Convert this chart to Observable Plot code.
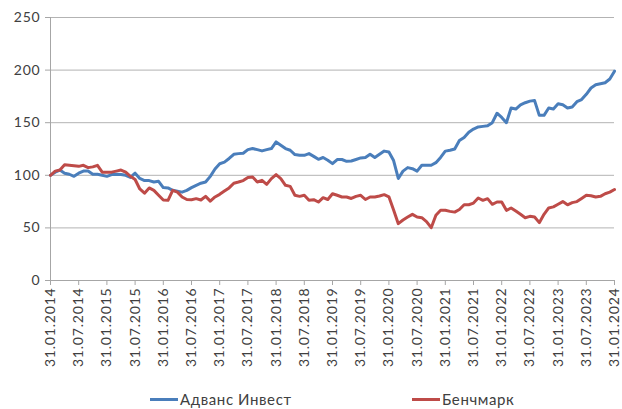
<!DOCTYPE html>
<html>
<head>
<meta charset="utf-8">
<script src="https://cdn.jsdelivr.net/npm/d3@7"></script>
<script src="https://cdn.jsdelivr.net/npm/@observablehq/plot@0.6"></script>
<style>
  html, body { margin: 0; padding: 0; background: #fff; }
  #wrap { position: relative; width: 622px; height: 409px; font-family: Lato, "Open Sans", sans-serif; }
  .leg { position: absolute; top: 390px; display: flex; align-items: center; font-size: 15px; letter-spacing: 0.6px; color: #404040; }
  .sw { width: 28px; height: 3px; margin-right: 2px; }
  svg text { letter-spacing: 0.8px; }
</style>
</head>
<body>
<div id="wrap">
  <div id="chart"></div>
  <div class="leg" style="left:150px"><span class="sw" style="background:#4A7EBB"></span>Адванс Инвест</div>
  <div class="leg" style="left:412px"><span class="sw" style="background:#BE4B48"></span>Бенчмарк</div>
</div>
<script>
const seriesNames = ["Адванс Инвест", "Бенчмарк"];
const fund = [100,103,105,102,101,99,102,104,104,101,101,100,99,100.7,101,100.7,100,98,102,97,95,95,93.6,94.3,88.3,88,85.7,84.8,84,85.7,88.3,90.5,92.5,93.6,99,106,111,112.5,116,120,120.6,121,124.4,125.4,124.4,123.2,124.4,125.4,131.7,128.6,125.4,123.8,119.7,119,119,120.6,118,115.2,116.9,114.3,111.1,115,115,113.3,113.6,115,116.5,116.9,120,116.9,120,123,122.2,114,97,104,107.3,106.3,104,109.5,109.5,109.5,112,117,123,123.8,125,133,136,141,144,146,146.5,147,150,159,155,150,164,163,167,169,170.5,171,157,157,164,163,168,167,164,165,170,172,177,183,186,187,188,191.5,199];
const bench = [100,104,105,110,109.5,109,108.5,109.5,107.3,108,109.5,103,103,103,104,105,103,99,96,87,83,88,85.7,81,76.5,76.2,85.7,84,79.4,77,76.8,77.8,76.5,80,75.5,79.4,81.9,85,88,92.5,93.6,95,98,98.4,93.6,95.2,91.4,96.8,100.6,96.8,90.5,89.5,81,80,81,76.2,76.8,74.6,78.7,77,82.5,81,79.4,79.4,78,80,81,77,79.4,79.4,80.3,81.6,79.5,67,54,57.5,60.3,62.9,60.3,59.7,56,50.2,62,66.7,66.7,65.7,65,67.5,72,72,73.6,78.4,76.2,77.8,72.4,74.6,74.6,66.7,68.9,66,62.9,59.7,61,60.3,55,62.9,69,70,72.5,75,72,74,75,78,81,80.5,79.4,80,82.5,84,86.5];
const yTicks = [0, 50, 100, 150, 200, 250];
const fmt = d3.utcFormat("%d.%m.%Y");
const dates = d3.range(fund.length).map(i => fmt(new Date(Date.UTC(2014, i + 1, 0))));
const tickLabels = dates.filter((d, i) => i % 6 === 0);
const colors = ["#4A7EBB", "#BE4B48"];

const chart = Plot.plot({
  width: 622,
  height: 388,
  marginLeft: 50,
  marginRight: 8,
  marginTop: 17,
  marginBottom: 108,
  style: { fontFamily: "Lato, 'Open Sans', sans-serif", fontSize: "14px", color: "#404040", background: "#fff" },
  x: { type: "point", domain: dates, padding: 0 },
  y: { domain: [0, 250] },
  marks: [
    Plot.gridY(yTicks, { stroke: "#b3b3b3", strokeOpacity: 1, strokeWidth: 1 }),
    Plot.ruleX([dates[0]], { stroke: "#a6a6a6" }),
    Plot.ruleY([0], { stroke: "#a6a6a6" }),
    Plot.axisY(yTicks, { tickSize: 5, tickPadding: 5, stroke: "#a6a6a6", fill: "#404040", fontSize: 14, label: null }),
    Plot.axisX(tickLabels, { tickSize: 5, text: null, stroke: "#a6a6a6", label: null }),
    Plot.axisX(tickLabels, { tickSize: 0, tickPadding: 7, tickRotate: -90, fill: "#404040", fontSize: 14, label: null }),
    Plot.line(fund, { x: (d, i) => dates[i], y: d => d, stroke: colors[0], strokeWidth: 3 }),
    Plot.line(bench, { x: (d, i) => dates[i], y: d => d, stroke: colors[1], strokeWidth: 3 })
  ]
});
document.getElementById("chart").appendChild(chart);
</script>
</body>
</html>
